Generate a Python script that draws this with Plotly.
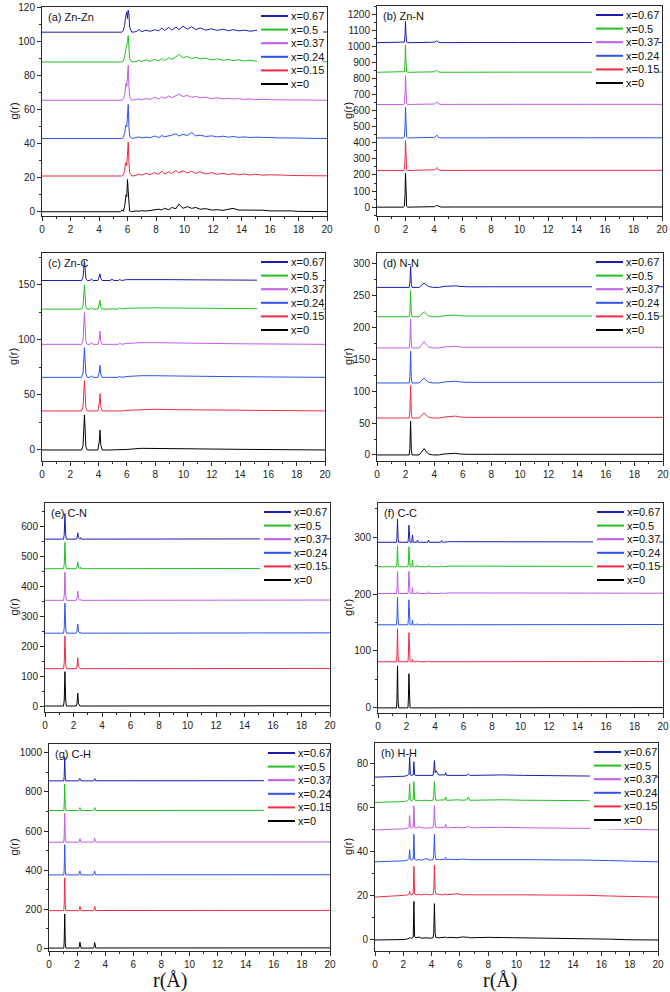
import plotly.graph_objects as go

# ---------------- data ----------------
LABELS = ["x=0.67", "x=0.5", "x=0.37", "x=0.24", "x=0.15", "x=0"]
PANEL_TITLES = ["(a) Zn-Zn", "(b) Zn-N", "(c) Zn-C", "(d) N-N",
                "(e) C-N", "(f) C-C", "(g) C-H", "(h) H-H"]

# (a) Zn-Zn
a_r = [0, 5.5, 5.6, 5.7, 5.8, 5.85, 5.9, 5.95, 6.0, 6.05, 6.1, 6.15, 6.3, 6.6, 6.8, 7.0, 7.3, 7.6, 7.9, 8.2,
       8.4, 8.6, 8.9, 9.1, 9.4, 9.6, 9.9, 10.2, 10.5, 10.8, 11.1, 11.5, 11.9, 12.3, 12.7, 13.1, 13.4, 13.8,
       14.2, 14.6, 15.0, 15.5, 16.0, 16.5, 17.0, 17.5, 18.0, 18.5, 19.0, 19.5, 20.0]
a_off = [105.5, 88, 65.5, 43, 21, 0]
a_g = [
    [0, 0, 0, 1, 4, 8, 10, 12, 8, 13, 11, 3, 0, 0.3, 1.5, 0.3, 1.2, 0.5, 1.5, 0.8, 2.5, 1.0, 2.8, 1.2, 3.0,
     1.5, 3.5, 1.8, 3.2, 1.5, 2.5, 1.2, 2.0, 1.0, 1.8, 0.8, 1.5, 0.8, 1.2, 0.6, 1.0, 0.5, 0.8, 0.4, 0.5,
     0.3, 0.4, 0.2, 0.2, 0.1, 0.1],
    [0, 0, 0, 0.5, 3, 6, 8, 9, 12, 15.5, 9, 2, 0, 0.2, 1.0, 0.3, 1.2, 0.4, 1.5, 0.6, 2.0, 0.8, 2.5, 1.5, 3.0,
     4.5, 2.5, 3.2, 2.0, 2.8, 1.8, 2.2, 1.2, 1.8, 1.0, 1.5, 0.8, 1.3, 0.6, 1.0, 0.5, 0.8, 0.4, 0.6, 0.3,
     0.4, 0.2, 0.3, 0.2, 0.1, 0.1],
    [0, 0, 0, 0.5, 3, 7, 10, 8, 14, 20.5, 8, 2, 0, 0.3, 0.8, 0.3, 1.0, 0.5, 1.8, 0.7, 2.0, 1.0, 2.5, 1.5, 3.0,
     3.5, 2.2, 2.8, 1.8, 2.2, 1.5, 1.8, 1.0, 1.5, 0.8, 1.2, 0.7, 1.0, 0.5, 0.8, 0.4, 0.6, 0.3, 0.4, 0.3,
     0.2, 0.2, 0.1, 0.1, 0, 0],
    [0, 0, 0, 0.5, 3, 6, 8, 7, 12, 20, 7, 1.5, 0, 0.5, 1.0, 0.4, 0.8, 0.5, 1.5, 0.6, 1.8, 1.0, 1.5, 2.0, 2.8,
     1.5, 2.5, 1.8, 3.5, 1.5, 2.0, 1.2, 1.6, 1.0, 1.4, 0.8, 1.2, 0.7, 1.0, 0.6, 0.8, 0.5, 0.6, 0.4, 0.5,
     0.3, 0.3, 0.2, 0.1, 0.1, 0],
    [0, 0, 0, 0.5, 3, 7, 8, 6, 12, 20, 8, 2, 0, 0.3, 1.2, 0.5, 1.5, 0.8, 2.0, 1.0, 3.0, 1.2, 2.5, 1.5, 3.2,
     2.0, 3.0, 1.8, 2.8, 1.5, 2.5, 1.2, 2.0, 1.0, 1.6, 0.8, 1.4, 0.7, 1.2, 0.6, 1.0, 0.5, 0.7, 0.4, 0.5,
     0.3, 0.3, 0.2, 0.2, 0.1, 0.1],
    [0, 0, 1, 0.3, 3, 8, 10, 9, 19, 12, 3, 0.5, 0, 0.5, 0.3, 0.6, 0.4, 0.8, 1.0, 1.5, 1.0, 2.0, 1.2, 2.5, 1.8,
     4.5, 2.0, 3.0, 2.0, 2.5, 1.5, 1.8, 1.0, 1.2, 0.8, 1.5, 2.0, 1.0, 1.0, 1.2, 0.8, 0.9, 0.5, 0.6, 0.3,
     0.5, 0.2, 0.3, 0.1, 0.1, 0.1],
]

# (b) Zn-N
b_r = [0, 1.85, 1.92, 1.97, 2.0, 2.03, 2.08, 2.15, 3.9, 4.05, 4.15, 4.2, 4.25, 4.35, 4.5, 5.5, 7.5, 10, 15, 20]
b_off = [1022, 838, 638, 430, 228, 0]
b_g = [
    [0, 0, 4, 50, 133, 58, 4, 0, 0, 3, 10, 12, 7, 2, 0.5, 1, 2, 1, 1, 1],
    [0, 0, 4, 64, 167, 72, 4, 0, 0, 3, 10, 12, 7, 2, 0.5, 1, 2, 1, 1, 1],
    [0, 0, 5, 68, 180, 78, 5, 0, 0, 3, 12, 15, 9, 3, 0.5, 1, 2, 1, 1, 1],
    [0, 0, 5, 72, 190, 82, 5, 0, 0, 4, 14, 18, 10, 3, 0.5, 1, 2, 1, 1, 1],
    [0, 0, 5, 70, 185, 80, 5, 0, 0, 4, 14, 18, 10, 3, 0.5, 1, 2, 1, 1, 1],
    [0, 0, 5, 80, 210, 90, 5, 0, 0, 3, 10, 13, 8, 3, 0.5, 1, 1.5, 1, 1, 1],
]

# (c) Zn-C
c_r = [0, 2.8, 2.9, 2.95, 3.0, 3.05, 3.1, 3.2, 3.4, 3.5, 3.6, 3.95, 4.05, 4.1, 4.15, 4.25, 4.8, 4.95, 5.1,
       5.4, 5.5, 5.6, 6.0, 7.0, 8.0, 9.0, 11.0, 14.0, 17.0, 20.0]
c_off = [154, 128, 96, 66, 35.5, 0]
c_g = [
    [0, 0, 3, 12, 18, 10, 2, 0, 0, 1.5, 0, 0, 3, 6, 2, 0, 0, 1.0, 0, 0, 1.0, 0, 0.8, 1.0, 1.0, 0.8, 0.6, 0.4, 0.2, 0],
    [0, 0, 3, 14, 22, 12, 2, 0, 0, 1.5, 0, 0, 4, 8, 2, 0, 0, 0.5, 0, 0, 1.5, 0, 0.8, 1.2, 1.2, 1.0, 0.8, 0.5, 0.2, 0],
    [0, 0, 4, 18, 29, 16, 3, 0, 0, 1.5, 0, 0, 5, 12, 3, 0, 0, 0.5, 0, 0, 1.2, 0, 0.8, 1.5, 1.5, 1.2, 1.0, 0.5, 0.3, 0],
    [0, 0, 4, 17, 27, 15, 3, 0, 0, 1.5, 0, 0, 5, 11, 3, 0, 0, 0.5, 0, 0, 1.0, 0, 0.8, 1.5, 1.5, 1.2, 1.0, 0.6, 0.3, 0],
    [0, 0, 4, 18, 27.5, 16, 3, 0, 0, 0.5, 0, 0, 7, 15.5, 4, 0, 0, 0.3, 0, 0, 0.3, 0, 0.5, 1.2, 1.5, 1.2, 1.0, 0.6, 0.3, 0],
    [0, 0, 4, 20, 32, 18, 3, 0, 0, 0, 0, 0, 8, 18, 5, 0, 0, 0, 0, 0, 0, 0, 0.5, 1.5, 1.5, 1.2, 1.0, 0.6, 0.3, 0],
]

# (d) N-N
d_r = [0, 2.25, 2.3, 2.35, 2.4, 2.45, 2.95, 3.15, 3.3, 3.45, 3.6, 3.9, 4.3, 4.7, 5.1, 5.5, 5.8, 6.3, 8.0, 12.0, 20.0]
d_off = [263, 217, 168, 113, 58, 0]
d_g = [
    [0, 0, 7, 33, 5, 0, 0, 3.5, 7, 3.5, 1.5, 0, 0, 1.5, 2.5, 2.5, 1.5, 1.0, 1.0, 1.0, 1.0],
    [0, 0, 8, 41, 6, 0, 0, 4, 8, 4, 1.5, 0, 0, 1.5, 2.5, 2.5, 1.5, 1.0, 1.0, 1.0, 1.0],
    [0, 0, 9, 45, 7, 0, 0, 5, 10, 5, 1.5, 0, 0, 1.5, 2.5, 2.5, 1.5, 1.0, 1.0, 1.0, 1.0],
    [0, 0, 10, 50, 8, 0, 0, 4, 8, 4, 1.5, 0, 0, 1.5, 2.5, 2.8, 1.5, 1.0, 1.0, 1.0, 1.0],
    [0, 0, 10, 51, 8, 0, 0, 4, 8, 4, 1.5, 0, 0, 1.5, 2.5, 3.0, 1.5, 1.0, 1.0, 1.0, 1.0],
    [0, 0, 10, 53, 8, 0, 0, 5, 10, 5, 1.5, 0, 0, 1.5, 2.5, 2.5, 1.5, 1.0, 1.0, 1.0, 1.0],
]

# (e) C-N
e_r = [0, 1.3, 1.35, 1.4, 1.45, 1.5, 2.2, 2.25, 2.3, 2.35, 2.45, 2.5, 2.55, 2.65, 3.4, 3.8, 5.0, 10.0, 20.0]
e_off = [559, 460, 354, 244, 125, 0]
e_g = [
    [0, 0, 15, 86, 15, 0, 0, 5, 21, 4, 0, 5, 0, 0, 0, 1, 1, 1, 1],
    [0, 0, 16, 88, 15, 0, 0, 5, 23, 5, 0, 5, 0, 0, 0, 1, 1, 1, 1],
    [0, 0, 17, 94, 16, 0, 0, 7, 31, 6, 0, 3, 0, 0, 0, 1, 1, 1, 1],
    [0, 0, 18, 101, 17, 0, 0, 7, 31, 6, 0, 3, 0, 0, 0, 1, 1, 1, 1],
    [0, 0, 20, 110, 18, 0, 0, 8, 37, 7, 0, 1, 0, 0, 0, 1, 1, 1, 1],
    [0, 0, 20, 115, 20, 0, 0, 10, 43, 8, 0, 0, 0, 0, 0, 1, 1, 1, 1],
]

# (f) C-C
f_r = [0, 1.3, 1.33, 1.37, 1.41, 1.45, 2.1, 2.13, 2.17, 2.21, 2.25, 2.37, 2.42, 2.47, 2.72, 2.77, 2.82,
       3.5, 3.55, 3.6, 4.4, 4.46, 4.52, 5.0, 8.0, 12.0, 20.0]
f_off = [291, 248, 201, 146, 81, 0]
f_g = [
    [0, 0, 8, 41, 7, 0, 0, 6, 30, 5, 0, 0, 13, 0, 0, 4, 0, 0, 4, 0, 0, 3, 0, 1, 1, 1, 0.5],
    [0, 0, 8, 37, 6, 0, 0, 7, 35, 6, 0, 0, 12, 0, 0, 3, 0, 0, 3, 0, 0, 2, 0, 1, 1, 1, 0.5],
    [0, 0, 8, 39, 7, 0, 0, 8, 39, 7, 0, 0, 10, 0, 0, 3, 0, 0, 3, 0, 0, 2, 0, 1, 1, 1, 0.5],
    [0, 0, 10, 48, 8, 0, 0, 9, 44, 7, 0, 0, 8, 0, 0, 2, 0, 0, 2, 0, 0, 1, 0, 1, 1, 1, 0.5],
    [0, 0, 12, 58, 10, 0, 0, 10, 51, 8, 0, 0, 4, 0, 0, 2, 0, 0, 2, 0, 0, 0.5, 0, 1, 1, 1, 0.5],
    [0, 0, 15, 74, 12, 0, 0, 12, 60, 10, 0, 0, 0, 0, 0, 0, 0, 0, 0, 0, 0, 0, 0, 1, 1, 1, 0.5],
]

# (g) C-H
g_r = [0, 1.05, 1.08, 1.12, 1.16, 1.2, 2.12, 2.16, 2.2, 2.24, 2.28, 3.17, 3.21, 3.25, 3.29, 3.33, 3.5, 6.0, 20.0]
g_off = [857, 705, 543, 375, 192, 0]
g_g = [
    [0, 0, 21, 123, 18, 0, 0, 4, 13, 3, 0, 0, 3, 12, 3, 0, 0.5, 1, 1],
    [0, 0, 23, 135, 20, 0, 0, 4, 15, 4, 0, 0, 4, 15, 4, 0, 0.5, 1, 1],
    [0, 0, 25, 147, 21, 0, 0, 5, 18, 4, 0, 0, 6, 20, 5, 0, 0.5, 1, 1],
    [0, 0, 26, 155, 22, 0, 0, 6, 20, 5, 0, 0, 6, 20, 5, 0, 0.5, 1, 1],
    [0, 0, 28, 168, 24, 0, 0, 6, 22, 5, 0, 0, 6, 22, 5, 0, 0.5, 1, 1],
    [0, 0, 30, 175, 25, 0, 0, 8, 30, 6, 0, 0, 8, 28, 6, 0, 0.5, 1, 1],
]

# (h) H-H
h_r = [0, 1.9, 2.1, 2.3, 2.4, 2.45, 2.5, 2.6, 2.7, 2.75, 2.8, 2.9, 3.1, 3.3, 3.6, 3.9, 4.1, 4.15, 4.2, 4.25,
       4.3, 4.5, 4.8, 4.95, 5.0, 5.05, 5.3, 5.8, 6.2, 6.5, 6.6, 6.7, 7.0, 8.0, 9.0, 10.5, 12.0, 13.5, 15.0,
       16.5, 18.0, 20.0]
h_off = [74, 62.5, 50, 35.5, 19.5, 0]
h_g = [
    [0, 0.2, 0.4, 0.8, 1.5, 9, 1.0, 0.8, 1.0, 7, 1.0, 0.8, 0.8, 0.8, 0.8, 0.8, 0.8, 3, 7.5, 2, 3, 1.0, 0.8,
     1.0, 2.0, 0.8, 0.8, 0.8, 1.0, 0.8, 1.5, 0.8, 0.8, 0.9, 1.0, 0.8, 0.8, 0.7, 0.5, 0.3, 0.1, 0],
    [0, 0.2, 0.4, 0.8, 1.5, 8.5, 1.0, 0.8, 1.2, 9.5, 1.2, 0.8, 1.0, 0.8, 1.0, 0.8, 1.0, 3, 9.5, 3, 1.0, 1.0,
     1.0, 1.2, 2.5, 1.0, 1.0, 1.2, 1.0, 1.2, 2.5, 1.0, 1.0, 1.1, 1.2, 1.0, 1.0, 0.9, 0.8, 0.6, 0.3, 0.1],
    [0, 0.2, 0.5, 0.8, 1.5, 6.5, 1.0, 0.8, 1.2, 11, 1.2, 0.8, 1.5, 1.0, 0.8, 1.0, 1.0, 3, 11, 3, 1.2, 1.0,
     1.0, 1.2, 2.5, 1.0, 1.0, 1.2, 1.0, 1.2, 1.8, 1.0, 1.0, 1.1, 1.2, 1.0, 1.0, 0.9, 0.7, 0.5, 0.2, 0],
    [0, 0.3, 0.5, 0.8, 1.5, 5.5, 1.0, 0.8, 1.2, 12.5, 1.2, 0.8, 1.0, 0.8, 1.5, 0.8, 1.0, 3, 12.5, 3, 1.2, 1.0,
     1.0, 1.2, 2.0, 1.0, 1.2, 1.0, 1.3, 1.0, 1.2, 1.0, 1.0, 1.1, 1.0, 1.0, 1.0, 0.9, 0.8, 0.6, 0.3, 0],
    [0, 0.5, 0.8, 1.0, 1.5, 2.5, 1.2, 1.0, 1.5, 14, 1.5, 1.0, 1.2, 1.0, 1.3, 1.0, 1.2, 3, 14.5, 3, 1.5, 1.2,
     1.0, 1.3, 1.5, 1.0, 1.2, 1.5, 1.0, 1.2, 1.0, 1.1, 1.0, 1.1, 1.0, 1.0, 1.0, 0.9, 0.8, 0.5, 0.2, 0],
    [0, 0, 0.2, 0.5, 0.8, 0.6, 1.0, 0.8, 1.2, 17.5, 1.5, 1.0, 1.3, 0.8, 1.0, 0.8, 1.0, 3, 16.5, 3, 1.2, 1.0,
     1.2, 1.0, 1.3, 1.0, 1.2, 1.0, 1.4, 1.2, 1.3, 1.0, 1.1, 1.2, 1.1, 1.0, 1.0, 0.9, 0.8, 0.4, 0.1, 0],
]

Y_DTICK = [20, 100, 50, 50, 100, 100, 200, 20]
Y_RANGE = [[-2.5, 120.3], [-55, 1250], [-10, 179], [-9.5, 317],
           [-20, 680], [-9, 360], [-15, 1046], [-5, 89.5]]

# ---------------- style / layout ----------------
W, H = 670, 992
COLORS = ["#1c1cb0", "#22c022", "#c05ce6", "#2f52f0", "#f02a44", "#000000"]
FONT = "Liberation Sans, Arial, sans-serif"
# panel frames in pixels: left, right, top, bottom
BOXES = [(42, 327, 7, 216), (377, 662, 6, 216), (42, 325, 253, 461), (377, 663, 253, 461),
         (45, 330, 503, 712), (378, 663, 503, 713), (49, 330, 744, 951), (375, 658, 743, 951)]

PANELS = [(a_r, a_off, a_g), (b_r, b_off, b_g), (c_r, c_off, c_g), (d_r, d_off, d_g),
          (e_r, e_off, e_g), (f_r, f_off, f_g), (g_r, g_off, g_g), (h_r, h_off, h_g)]

fig = go.Figure()
layout = {}
shapes = []
annotations = []
AXC = "#2a2a2a"

for p, (r, off, gs) in enumerate(PANELS):
    k = "" if p == 0 else str(p + 1)
    for i, (o, g) in enumerate(zip(off, gs)):
        assert len(g) == len(r), (p, i, len(g), len(r))
        fig.add_trace(go.Scatter(
            x=r, y=[o + v for v in g], mode="lines", name=LABELS[i],
            line=dict(color=COLORS[i], width=1), xaxis="x" + k, yaxis="y" + k,
            showlegend=False, hoverinfo="skip"))

    L, R, T, B = BOXES[p]
    pw, ph = R - L, B - T
    base = dict(showline=True, mirror=True, linecolor=AXC, linewidth=1,
                ticks="outside", ticklen=4, tickwidth=1, tickcolor=AXC,
                showgrid=False, zeroline=False, automargin=False,
                tickfont=dict(family=FONT, size=10, color="#222"))
    layout["xaxis" + k] = dict(base, domain=[L / W, R / W], range=[0, 20],
                               tick0=0, dtick=2, anchor="y" + k,
                               minor=dict(dtick=1, ticks="outside", ticklen=2, tickcolor=AXC))
    layout["yaxis" + k] = dict(base, domain=[1 - B / H, 1 - T / H], range=Y_RANGE[p],
                               tick0=0, dtick=Y_DTICK[p], anchor="x" + k,
                               minor=dict(dtick=Y_DTICK[p] / 2, ticks="outside", ticklen=2, tickcolor=AXC))

    xd, yd = "x" + k + " domain", "y" + k + " domain"
    # panel label
    annotations.append(dict(text=PANEL_TITLES[p], xref=xd, yref=yd, x=4 / pw, y=1 - 2 / ph,
                            xanchor="left", yanchor="top", showarrow=False,
                            font=dict(family=FONT, size=11, color="#111")))
    # y title
    annotations.append(dict(text="g(r)", xref="paper", yref=yd,
                            x=(13 if p % 2 == 0 else 348) / W, y=0.5, textangle=-90,
                            xanchor="center", yanchor="middle", showarrow=False,
                            font=dict(family=FONT, size=11, color="#111")))
    # legend box (opaque, covers lines like the original)
    shapes.append(dict(type="rect", xref=xd, yref=yd, x0=215 / pw, x1=281 / pw,
                       y0=1 - 86 / ph, y1=1 - 1 / ph, fillcolor="white",
                       line=dict(width=0), layer="above"))
    for i, lab in enumerate(LABELS):
        yy = 1 - (9 + 13.6 * i) / ph
        shapes.append(dict(type="line", xref=xd, yref=yd, x0=219 / pw, x1=246 / pw,
                           y0=yy, y1=yy, line=dict(color=COLORS[i], width=2), layer="above"))
        annotations.append(dict(text=lab, xref=xd, yref=yd, x=247 / pw, y=yy,
                                xanchor="left", yanchor="middle", showarrow=False,
                                font=dict(family=FONT, size=11, color="#111")))

for xc in (170, 500):
    annotations.append(dict(text="r(Å)", xref="paper", yref="paper", x=xc / W, y=1 - 980 / H,
                            xanchor="center", yanchor="middle", showarrow=False,
                            font=dict(family="Liberation Serif, Times New Roman, serif",
                                      size=20, color="#111")))

fig.update_layout(width=W, height=H, margin=dict(l=0, r=0, t=0, b=0, autoexpand=False),
                  paper_bgcolor="white", plot_bgcolor="white",
                  shapes=shapes, annotations=annotations, showlegend=False, **layout)

fig.write_html("out.html", config={"displayModeBar": False, "staticPlot": True},
               post_script="document.body.style.margin='0px';document.body.style.overflow='hidden';")
